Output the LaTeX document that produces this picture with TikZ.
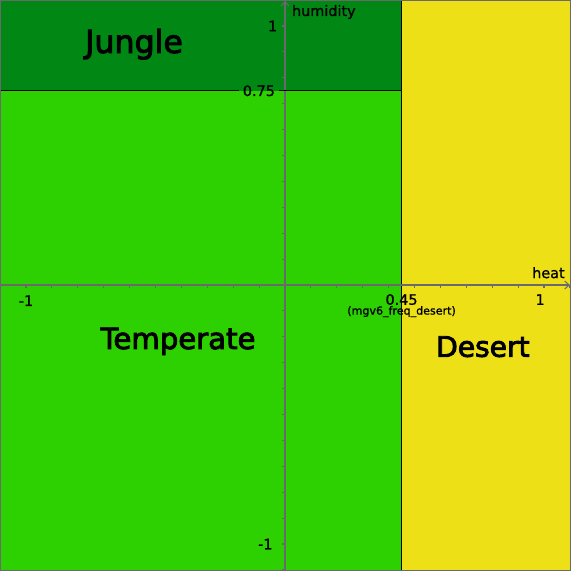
\documentclass[tikz,border=0pt]{standalone}
\usepackage{fontspec}
\setmainfont{DejaVu Sans}
\newfontfamily\biomefont[FakeBold=3]{DejaVu Sans}
\newfontfamily\tickfont[FakeBold=1]{DejaVu Sans}
\usetikzlibrary{arrows.meta}
\definecolor{junglegreen}{RGB}{0, 135, 20}
\definecolor{temperategreen}{RGB}{45, 208, 0}
\definecolor{desertyellow}{RGB}{237, 224, 22}
\definecolor{axisgray}{RGB}{105, 105, 110}

\begin{document}
\begin{tikzpicture}[x=5.18cm, y=5.18cm, >={Straight Barb[length=2.5pt, width=4.5pt]},
  biome/.style={anchor=base, inner sep=0pt},
  ticklabel/.style={font=\tickfont\fontsize{8.2}{9}\selectfont, inner sep=1pt},
  axisline/.style={axisgray, line width=0.6pt}]

  \useasboundingbox (-1.1004, -1.1042) rectangle (1.1042, 1.1004);

  % --- Biome regions ---
  \fill[temperategreen] (-1.1004, -1.1042) rectangle (0.45, 0.75);
  \fill[junglegreen] (-1.1004, 0.75) rectangle (0.45, 1.1004);
  \fill[desertyellow] (0.45, -1.1042) rectangle (1.1042, 1.1004);

  % Desert boundary (heat threshold)
  \draw[line width=0.8pt] (0.45, -1.1042) -- (0.45, 1.1004);

  % --- Axes with ticks every 0.1 ---
  \draw[axisline, ->] (-1.1004, 0) -- (1.1, 0);
  \draw[axisline, ->] (0, -1.1042) -- (0, 1.097);
  \foreach \i in {-11,...,11} {
    \draw[axisline] (\i/10, 0) -- ++(0, -0.0116);
    \draw[axisline] (0, \i/10) -- ++(-0.0116, 0);
  }

  % Jungle boundary (humidity threshold), broken round its label
  \node[ticklabel, anchor=east, inner sep=2pt] (humjungle) at (-0.024, 0.75) {0.75};
  \draw[line width=0.8pt] (-1.1004, 0.75) -- (humjungle.west);
  \draw[line width=0.8pt] (humjungle.east) -- (0.45, 0.75);

  % --- Axis labels ---
  \node[ticklabel, anchor=east] (humone) at (-0.022, 1) {1};
  \node[ticklabel, anchor=east] (hummin) at (-0.04, -1) {-1};
  \node[ticklabel, anchor=west] (humlabel) at (0.019, 1.054) {humidity};
  \node[ticklabel, anchor=east] (heatlabel) at (1.088, 0.0475) {heat};
  \node[ticklabel] (heatmin) at (-1, -0.0606) {-1};
  \node[ticklabel] (heatdesert) at (0.45, -0.056) {0.45};
  \node[ticklabel, font=\tickfont\fontsize{6.3}{7}\selectfont] (freqdesert) at (0.45, -0.103) {(mgv6\_freq\_desert)};
  \node[ticklabel] (heatone) at (0.985, -0.056) {1};

  % --- Biome names ---
  \node[biome, font=\biomefont\fontsize{18}{20}\selectfont] (jungle) at (-0.583, 0.896) {Jungle};
  \node[biome, font=\biomefont\fontsize{16.6}{18}\selectfont] (temperate) at (-0.413, -0.247) {Temperate};
  \node[biome, font=\biomefont\fontsize{16}{18}\selectfont] (desert) at (0.764, -0.277) {Desert};

  % Frame
  \draw[axisline, line width=0.57pt] (-1.0985, -1.1023) rectangle (1.1023, 1.0985);

\end{tikzpicture}
\end{document}
